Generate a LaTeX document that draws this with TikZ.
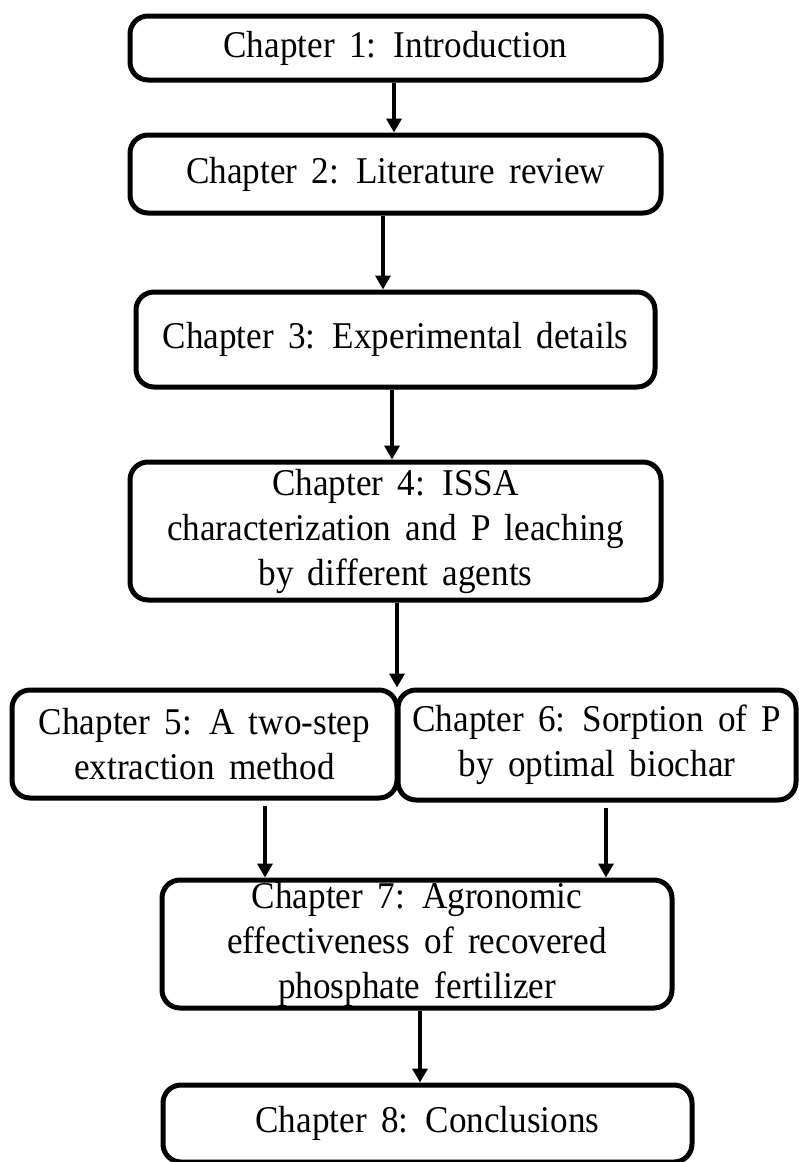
\documentclass[tikz,border=0pt]{standalone}
\usepackage{fontspec}
\setmainfont{Liberation Serif}
\newfontfamily\chfam{Liberation Serif}[FakeStretch=0.93]
\usetikzlibrary{arrows.meta}
\newcommand{\chfont}{\chfam\fontsize{37.8}{45}\selectfont\spaceskip=0.38em plus 0.1em minus 0.05em\relax}
\tikzset{
  chbox/.style={draw=black, line width=5pt, rounded corners=18pt, fill=white,
    inner sep=0pt, align=center, anchor=center, font=\chfont},
  arr/.style={line width=4.5pt, -{Triangle[width=15pt,length=14pt]}}
}
\begin{document}
\begin{tikzpicture}[x=1pt, y=-1pt]
\useasboundingbox (0,0) rectangle (798,1162);
\node[chbox, minimum width=531pt, minimum height=64pt] (b1) at (395.5,48) {Chapter 1: Introduction};
\node[chbox, minimum width=531pt, minimum height=78pt] (b2) at (395.5,174) {Chapter 2: Literature review};
\node[chbox, minimum width=519pt, minimum height=95pt] (b3) at (395.5,339.5) {Chapter 3: Experimental details};
\node[chbox, minimum width=531pt, minimum height=138pt] (b4) at (395.5,531) {Chapter 4: ISSA\\characterization and P leaching\\by different agents};
\node[chbox, minimum width=385pt, minimum height=108pt] (b5) at (204.5,744) {Chapter 5: A two-step\\extraction method};
\node[chbox, minimum width=398pt, minimum height=110pt] (b6) at (597,745) {Chapter 6: Sorption of P\\by optimal biochar};
\node[chbox, minimum width=510pt, minimum height=128pt] (b7) at (417,944) {Chapter 7: Agronomic\\effectiveness of recovered\\phosphate fertilizer};
\node[chbox, minimum width=529pt, minimum height=77pt] (b8) at (427.5,1123.5) {Chapter 8: Conclusions};

\draw[arr] (b1.south -| 394,0) -- (b2.north -| 394,0);
\draw[arr] (b2.south -| 383,0) -- (b3.north -| 383,0);
\draw[arr] (b3.south -| 392,0) -- (b4.north -| 392,0);
\draw[arr] (b4.south -| 397,0) -- (b5.north -| 397,0);
\draw[arr] ([yshift=-5pt]b5.south -| 265,0) -- (b7.north -| 265,0);
\draw[arr] ([yshift=-5pt]b6.south -| 606,0) -- (b7.north -| 606,0);
\draw[arr] (b7.south -| 420,0) -- (b8.north -| 420,0);
\end{tikzpicture}
\end{document}
